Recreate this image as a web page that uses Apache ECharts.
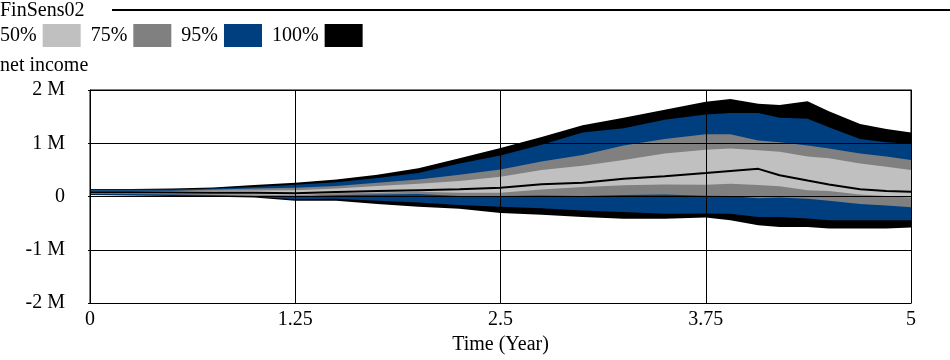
<!DOCTYPE html>
<html>
<head>
<meta charset="utf-8">
<script src="https://cdn.jsdelivr.net/npm/echarts@6/dist/echarts.min.js"></script>
<style>
html,body{margin:0;padding:0;background:#fff;overflow:hidden;}
#chart{width:950px;height:360px;}
</style>
</head>
<body>
<div id="chart"></div>
<script>
// Time (Year)
var timeYears = [0, 0.25, 0.5, 0.75, 1.0, 1.25, 1.5, 1.75, 2.0, 2.25, 2.5, 2.75, 3.0, 3.25, 3.5, 3.75, 3.9, 4.07, 4.2, 4.37, 4.5, 4.69, 4.85, 5.0];
// net income, millions
var maxV  = [0.14, 0.14, 0.15, 0.17, 0.215, 0.26, 0.32, 0.41, 0.53, 0.72, 0.91, 1.12, 1.34, 1.48, 1.63, 1.78, 1.83, 1.74, 1.72, 1.79, 1.6, 1.36, 1.27, 1.2];
var p95hi = [0.13, 0.13, 0.13, 0.15, 0.18, 0.22, 0.27, 0.35, 0.44, 0.62, 0.77, 0.97, 1.2, 1.28, 1.44, 1.54, 1.57, 1.57, 1.48, 1.46, 1.3, 1.08, 1.02, 0.99];
var p75hi = [0.11, 0.11, 0.11, 0.13, 0.15, 0.165, 0.2, 0.26, 0.32, 0.41, 0.51, 0.66, 0.78, 0.96, 1.08, 1.17, 1.17, 1.05, 1.02, 0.96, 0.9, 0.81, 0.75, 0.685];
var p50hi = [0.10, 0.10, 0.10, 0.11, 0.115, 0.12, 0.15, 0.2, 0.24, 0.29, 0.37, 0.5, 0.58, 0.685, 0.81, 0.88, 0.9, 0.87, 0.84, 0.75, 0.72, 0.62, 0.56, 0.5];
var median = [0.08, 0.08, 0.075, 0.07, 0.07, 0.06, 0.085, 0.105, 0.12, 0.135, 0.165, 0.23, 0.26, 0.335, 0.38, 0.44, 0.48, 0.52, 0.4, 0.3, 0.225, 0.135, 0.105, 0.09];
var p50lo = [0.06, 0.06, 0.05, 0.045, 0.04, 0.025, 0.06, 0.07, 0.09, 0.07, 0.07, 0.13, 0.18, 0.21, 0.225, 0.22, 0.24, 0.215, 0.195, 0.12, 0.105, 0.04, 0.01, -0.02];
var p75lo = [0.05, 0.05, 0.04, 0.03, 0.01, 0, 0.025, 0.04, 0.05, 0.01, 0.01, 0.02, 0.01, 0.03, 0.04, 0.015, 0.01, -0.03, -0.02, -0.04, -0.08, -0.14, -0.17, -0.2];
var p95lo = [0.04, 0.03, 0.02, 0.01, -0.005, -0.05, -0.04, -0.08, -0.11, -0.16, -0.19, -0.22, -0.26, -0.29, -0.325, -0.32, -0.325, -0.385, -0.385, -0.41, -0.445, -0.445, -0.445, -0.445];
var minV  = [0.03, 0.02, 0.01, -0.005, -0.02, -0.08, -0.08, -0.14, -0.19, -0.23, -0.31, -0.34, -0.385, -0.415, -0.415, -0.395, -0.445, -0.54, -0.57, -0.57, -0.6, -0.6, -0.6, -0.58];

var legendNames = ['50%', '75%', '95%', '100%'];
var yTicks = [-2, -1, 0, 1, 2];

var C50 = '#C0C0C0', C75 = '#808080', C95 = '#003F7F', C100 = '#000000';
var FONT = '"Liberation Serif", "Times New Roman", serif';

function pairs(arr) { return timeYears.map(function (t, i) { return [t, arr[i]]; }); }
function band(name, arr, color, z) {
  return {
    type: 'line', name: name, data: pairs(arr), showSymbol: false, symbol: 'none',
    lineStyle: { width: 0, color: color }, itemStyle: { color: color, borderWidth: 0 },
    areaStyle: { color: color, opacity: 1, origin: 'start' },
    silent: true, animation: false, z: z
  };
}

var chart = echarts.init(document.getElementById('chart'), null, { renderer: 'canvas', width: 950, height: 360 });
chart.setOption({
  animation: false,
  backgroundColor: '#fff',
  textStyle: { fontFamily: FONT },
  title: {
    text: 'FinSens02', left: 0, top: 1, padding: 0,
    textStyle: { fontSize: 20, fontWeight: 'normal', color: '#000', fontFamily: FONT }
  },
  legend: {
    data: legendNames, left: 0, top: 24, padding: 0, align: 'right',
    itemWidth: 38, itemHeight: 23, itemGap: 10, icon: 'rect', selectedMode: false,
    itemStyle: { borderWidth: 0 },
    textStyle: { fontSize: 20, color: '#000', fontFamily: FONT, padding: [0, 1, 0, 0] }
  },
  graphic: [
    { type: 'line', shape: { x1: 112, y1: 10, x2: 950, y2: 10 }, style: { stroke: '#000', lineWidth: 2 }, silent: true },
    { type: 'text', left: 0, top: 56, style: { text: 'net income', font: '20px ' + FONT, fill: '#000' }, silent: true }
  ],
  grid: { left: 90, width: 821, top: 90, height: 216, show: true, borderColor: '#000', borderWidth: 1, backgroundColor: '#fff' },
  xAxis: {
    type: 'value', min: 0, max: 5, interval: 1.25, z: 10,
    name: 'Time (Year)', nameLocation: 'middle', nameGap: 31,
    nameTextStyle: { fontSize: 20, color: '#000', fontFamily: FONT },
    axisLine: { show: true, lineStyle: { color: '#000', width: 1 } },
    axisTick: { show: false },
    axisLabel: { fontSize: 20, color: '#000', margin: 7, fontFamily: FONT },
    splitLine: { show: true, lineStyle: { color: '#000', width: 1 } }
  },
  yAxis: [{
    type: 'value', min: yTicks[0], max: yTicks[yTicks.length - 1], interval: 1, z: 10,
    axisLine: { show: true, lineStyle: { color: '#000', width: 1 } },
    axisTick: { show: true, length: 2, lineStyle: { color: '#000' } },
    axisLabel: {
      fontSize: 20, color: '#000', margin: 25, fontFamily: FONT, padding: [5, 0, 0, 0],
      formatter: function (v) { return v === 0 ? '0' : v + ' M'; }
    },
    splitLine: { show: true, lineStyle: { color: '#000', width: 1 } }
  }, {
    type: 'value', min: -2, max: 2, interval: 1, position: 'right', z: 10,
    axisLine: { show: true, lineStyle: { color: '#000', width: 1 } },
    axisTick: { show: false }, axisLabel: { show: false }, splitLine: { show: false }
  }],
  series: [
    band('100%', maxV, C100, 2),
    band('95%', p95hi, C95, 2),
    band('75%', p75hi, C75, 2),
    band('50%', p50hi, C50, 2),
    band('75%', p50lo, C75, 2),
    band('95%', p75lo, C95, 2),
    band('100%', p95lo, C100, 2),
    band('_below', minV, '#ffffff', 2),
    {
      type: 'line', name: 'median', data: pairs(median), showSymbol: false, symbol: 'none',
      lineStyle: { width: 2, color: '#000' }, itemStyle: { color: '#000' }, z: 5, silent: true
    }
  ]
});
</script>
</body>
</html>
